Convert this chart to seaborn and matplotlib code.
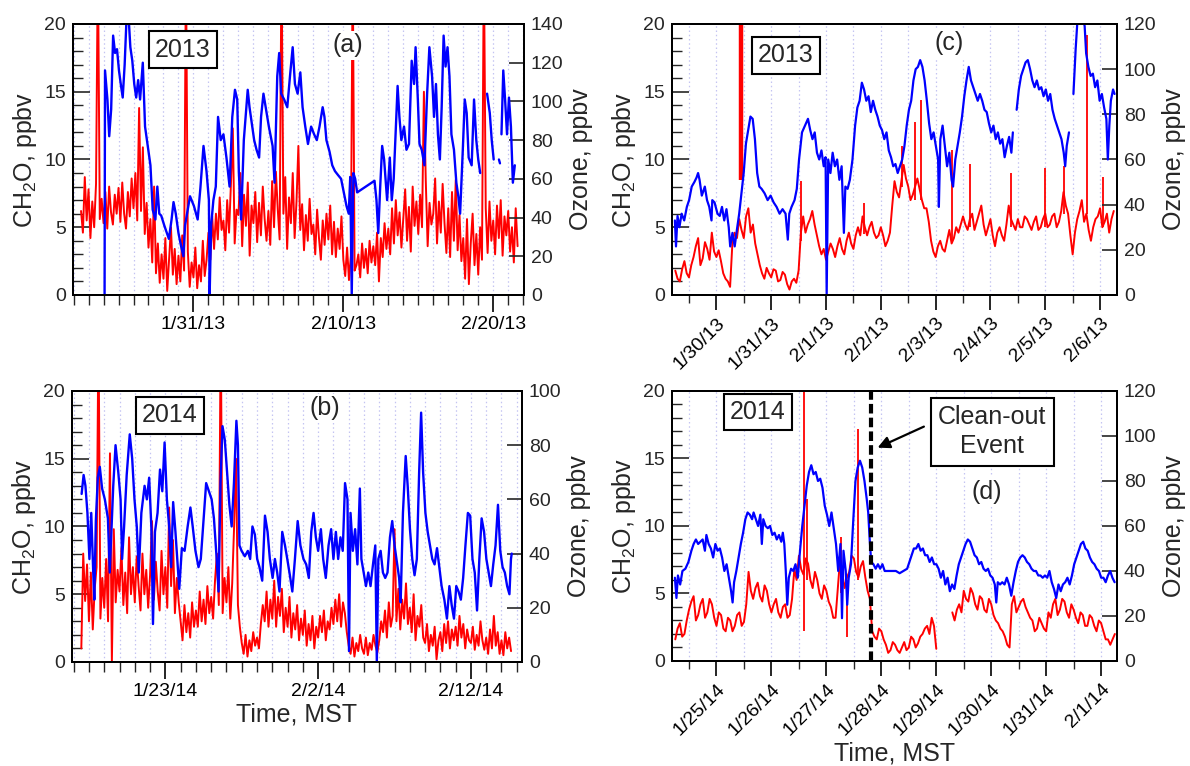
import numpy as np
import pandas as pd
import matplotlib
matplotlib.use("Agg")
import matplotlib.pyplot as plt
import matplotlib.dates as mdates
from matplotlib.ticker import MultipleLocator
import seaborn as sns

sns.set_theme(style="ticks")
plt.rcParams["font.family"] = ["Liberation Sans", "DejaVu Sans"]
plt.rcParams["mathtext.fontset"] = "custom"
plt.rcParams["mathtext.rm"] = "Liberation Sans"
plt.rcParams["mathtext.default"] = "rm"

RED = "#ff0000"
BLUE = "#0000ff"
nan = np.nan

# ---------------------------------------------------------------- 2013, full period (a)
start_a = "2013-01-23"
ch2o_a_t0, ch2o_a_per_day = 0.5, 8
ch2o_a = [
    6.2, 4.6, 8.7, 5.5,
    7.8, 4.2, 6.9, 5.0, 8.2, 25.0, 5.6, 7.1,
    5.3, 7.6, 4.9, 8.0, 6.1, 5.2, 7.4, 6.0,
    7.9, 5.4, 8.3, 6.0, 4.9, 7.6, 5.8, 8.6,
    6.4, 9.0, 5.5, 13.8, 6.2, 10.9, 4.5, 6.8,
    3.5, 5.6, 2.4, 8.0, 1.6, 3.8, 0.9, 3.0,
    1.2, 4.2, 0.3, 2.6, 5.0, 1.5, 3.4, 0.8,
    2.9, 1.0, 4.4, 1.8, 25.0, 3.2, 0.6, 2.4,
    1.3, 3.5, 0.5, 2.2, 1.0, 4.0, 1.4, 2.6,
    4.6, 2.6, 5.8, 3.4, 6.0, 4.1, 7.2, 4.8,
    5.5, 3.3, 7.0, 4.6, 8.2, 12.3, 3.8, 6.3,
    5.9, 9.0, 3.6, 7.4, 5.1, 8.3, 2.9, 6.6,
    5.3, 7.6, 3.9, 6.8, 4.4, 8.0, 5.6, 4.0,
    6.2, 3.7, 8.4, 5.0, 9.1, 6.3, 4.1, 25.0,
    6.0, 8.7, 3.4, 7.2, 5.3, 9.0, 4.2, 6.9,
    11.0, 4.8, 6.7, 3.3, 5.9, 4.0, 7.1, 4.5,
    5.2, 3.0, 6.3, 4.2, 2.6, 5.5, 3.7, 6.0,
    4.1, 6.6, 3.0, 5.4, 2.8, 4.9, 3.4, 5.8,
    2.6, 1.4, 3.5, 1.1, 2.9, 25.0, 1.8, 2.2,
    3.0, 1.3, 3.8, 2.0, 3.4, 1.6, 4.0, 2.4,
    3.6, 2.2, 4.6, 1.0, 4.2, 2.8, 5.3, 3.4,
    4.9, 3.0, 6.4, 3.8, 7.0, 4.4, 6.1, 3.5,
    5.6, 7.8, 4.0, 6.5, 3.2, 8.0, 5.1, 6.9,
    4.5, 7.4, 5.0, 15.0, 8.4, 3.6, 6.8, 5.2,
    6.0, 8.6, 3.8, 6.9, 4.6, 8.2, 5.3, 3.1,
    6.4, 2.8, 7.6, 4.0, 8.5, 3.3, 5.9, 2.5,
    4.2, 1.2, 5.6, 0.8, 3.8, 6.0, 2.2, 4.5,
    1.5, 5.0, 2.6, 25.0, 6.4, 3.1, 6.9, 4.0,
    5.5, 3.0, 6.6, 4.2, 7.0, 2.9, 5.8, 4.4,
    6.2, 3.2, 5.0, 2.4, 6.4, 3.6,
]
o3_a_t = [
    2.07, 2.10, 2.26, 2.38, 2.51, 2.64, 2.77, 2.90, 3.03, 3.15,
    3.28, 3.41, 3.54, 3.67, 3.79, 3.92, 4.05, 4.18, 4.31, 4.44,
    4.62, 4.77, 4.95, 5.13, 5.28, 5.46, 5.59, 5.72, 5.85, 6.05,
    6.23, 6.36, 6.54, 6.67, 6.82, 7.00, 7.18, 7.33, 7.44, 7.77,
    8.03, 8.28, 8.46, 8.67, 8.87, 9.03, 9.08, 9.18, 9.33, 9.49,
    9.64, 9.82, 10.00, 10.20, 10.41, 10.59, 10.77, 10.92, 11.03, 11.18,
    11.36, 11.62, 11.74, 11.87, 12.05, 12.21, 12.38, 12.51, 12.67, 12.82,
    13.03, 13.28, 13.41, 13.59, 13.72, 13.85, 14.05, 14.26, 14.44, 14.62,
    14.77, 14.95, 15.13, 15.28, 15.46, 15.64, 15.85, 16.05, 16.23, 16.41,
    16.62, 16.74, 16.87, 17.08, 17.26, 17.44, 17.64, 17.85, 18.03, 18.21,
    18.36, 18.46, 18.56, 18.67, 18.79, 18.92, 20.08, 20.21, 20.33, 20.46,
    20.59, 20.72, 20.92, 21.10, 21.23, 21.36, 21.62, 21.74, 21.87, 22.05,
    22.21, 22.38, 22.56, 22.72, 22.82, 22.97, 23.08, 23.23, 23.41, 23.59,
    23.74, 23.92, 24.05, 24.18, 24.31, 24.44, 24.56, 24.69, 24.82, 24.95,
    25.08, 25.21, 25.38, 25.54, 25.67, 25.79, 25.97, 26.10, 26.23, 26.36,
    26.56, 26.72, 26.87, 27.00, 27.13, 27.20, 27.59, 27.77, 27.90, 28.03,
    28.10, 28.38, 28.45, 28.50, 28.55, 28.67, 28.79, 28.92, 29.05, 29.18,
    29.31, 29.44,
]
o3_a = [
    0, 116, 101, 82, 96, 134, 125, 127, 116, 109,
    102, 119, 144, 144, 128, 121, 109, 102, 111, 101,
    120, 87, 77, 67, 44, 39, 56, 42, 41, 36,
    32, 29, 39, 48, 42, 32, 25, 20, 36, 51,
    46, 39, 55, 77, 64, 49, 0, 36, 49, 56,
    92, 80, 83, 71, 56, 92, 106, 101, 63, 39,
    80, 106, 97, 90, 80, 75, 71, 92, 104, 97,
    87, 77, 58, 113, 125, 104, 101, 97, 113, 128,
    109, 104, 115, 97, 87, 78, 87, 83, 80, 87,
    97, 92, 80, 74, 67, 64, 62, 60, 53, 46,
    42, 61, 0, 63, 60, 53, 59, 49, 32, 56,
    77, 70, 49, 71, 49, 60, 108, 92, 80, 87,
    75, 78, 121, 109, 128, 101, 78, 75, 67, 104,
    128, 113, 92, 109, 83, 70, 97, 134, 118, 128,
    113, 83, 75, 58, 51, 42, 75, 101, 94, 71,
    67, 101, 80, 70, 63, nan, 104, 94, 80, 70,
    nan, 70, 68, nan, 83, 116, 101, 83, 102, 87,
    58, 67,
]

# ---------------------------------------------------------------- 2014, full period (b)
start_b = "2014-01-17"
ch2o_b_t0, ch2o_b_per_day = 0.5, 8
ch2o_b = [
    1.0, 8.0, 4.5, 7.2,
    3.0, 6.6, 2.4, 5.4, 7.0, 25.0, 3.2, 6.2,
    4.0, 7.6, 3.0, 15.4, 0.0, 9.8, 4.4, 6.8,
    5.2, 8.4, 4.2, 6.6, 3.6, 9.2, 5.0, 7.0,
    4.4, 7.8, 5.6, 3.8, 8.0, 5.0, 6.8, 4.0,
    6.4, 10.4, 4.6, 7.4, 5.2, 3.8, 8.2, 5.0,
    7.0, 4.0, 11.4, 5.6, 9.0, 3.6, 6.2, 4.4,
    3.0, 1.6, 4.2, 2.2, 3.6, 1.8, 4.4, 2.6,
    3.8, 2.6, 5.2, 3.0, 4.6, 2.8, 5.6, 3.6,
    4.8, 3.2, 6.0, 8.0, 4.2, 25.0, 3.6, 6.2,
    4.4, 7.0, 3.2, 5.8, 10.0, 15.0, 4.2, 2.6,
    1.4, 0.6, 2.0, 0.4, 1.6, 0.8, 2.2, 1.2,
    1.8, 1.0, 2.8, 4.2, 3.0, 5.2, 2.6, 4.6,
    3.2, 6.0, 2.6, 4.8, 3.4, 5.4, 2.2, 4.0,
    2.6, 4.8, 1.8, 3.6, 2.4, 4.2, 1.6, 3.2,
    2.0, 3.8, 1.2, 2.8, 1.6, 3.4, 1.0, 2.6,
    1.8, 3.4, 2.2, 3.8, 1.6, 3.0, 2.4, 4.0,
    2.8, 4.6, 3.0, 5.0, 2.6, 4.4, 3.6, 2.2,
    1.2, 0.6, 1.8, 0.4, 1.4, 0.8, 2.0, 1.0,
    0.6, 1.8, 0.5, 1.4, 0.9, 2.0, 1.2, 0.7,
    1.6, 3.0, 2.2, 3.8, 1.8, 4.4, 2.6, 3.4,
    9.8, 3.0, 5.4, 2.4, 4.6, 3.2, 5.8, 2.8,
    4.0, 2.2, 5.0, 1.6, 3.4, 2.6, 4.2, 1.8,
    1.4, 2.8, 0.8, 2.0, 1.2, 2.6, 0.2, 1.6,
    2.2, 0.8, 2.8, 1.4, 3.0, 1.0, 2.4, 1.6,
    2.6, 1.2, 3.4, 1.8, 2.8, 1.0, 2.4, 1.6,
    1.4, 2.6, 0.9, 2.0, 1.2, 3.0, 1.6, 0.9,
    1.8, 0.6, 2.4, 1.0, 3.4, 1.2, 2.2, 0.6,
    1.6, 0.5, 2.2, 1.0, 1.8, 0.8,
]
o3_b_t = [
    0.52, 0.65, 0.77, 0.90, 1.03, 1.15, 1.28, 1.35, 1.45, 1.58,
    1.71, 1.86, 2.04, 2.24, 2.36, 2.47, 2.59, 2.74, 2.92, 3.07,
    3.17, 3.30, 3.47, 3.67, 3.83, 3.98, 4.13, 4.26, 4.43, 4.64,
    4.79, 4.94, 5.09, 5.19, 5.32, 5.49, 5.65, 5.80, 5.95, 6.10,
    6.25, 6.38, 6.51, 6.66, 6.78, 6.91, 7.08, 7.26, 7.46, 7.64,
    7.79, 7.97, 8.17, 8.32, 8.47, 8.67, 8.85, 9.03, 9.18, 9.36,
    9.48, 9.61, 9.74, 9.89, 10.04, 10.19, 10.34, 10.49, 10.65, 10.75,
    10.85, 10.99, 11.20, 11.40, 11.55, 11.70, 11.86, 12.01, 12.16, 12.34,
    12.52, 12.69, 12.84, 13.02, 13.17, 13.32, 13.47, 13.65, 13.83, 13.98,
    14.15, 14.31, 14.48, 14.66, 14.84, 15.04, 15.22, 15.39, 15.55, 15.70,
    15.85, 16.00, 16.18, 16.33, 16.50, 16.68, 16.85, 17.00, 17.16, 17.31,
    17.46, 17.61, 17.76, 17.92, 18.02, 18.12, 18.27, 18.42, 18.57, 18.73,
    18.83, 18.98, 19.13, 19.28, 19.43, 19.59, 19.74, 19.84, 19.94, 20.09,
    20.24, 20.39, 20.54, 20.70, 20.85, 21.00, 21.15, 21.30, 21.40, 21.55,
    21.73, 21.86, 22.01, 22.16, 22.31, 22.46, 22.61, 22.74, 22.87, 23.02,
    23.17, 23.32, 23.47, 23.62, 23.78, 23.93, 24.08, 24.26, 24.43, 24.59,
    24.74, 24.89, 25.04, 25.19, 25.34, 25.49, 25.64, 25.80, 25.95, 26.10,
    26.25, 26.40, 26.55, 26.70, 26.86, 27.01, 27.16, 27.31, 27.46, 27.61,
    27.77, 27.92, 28.07, 28.22, 28.37, 28.52, 28.62, 28.67,
]
o3_b = [
    62, 69, 65, 55, 38, 55, 33, 23, 52, 68,
    72, 64, 60, 53, 33, 48, 65, 80, 70, 60,
    38, 50, 69, 84, 75, 60, 50, 33, 55, 65,
    60, 68, 49, 14, 48, 55, 71, 63, 81, 60,
    50, 35, 59, 48, 38, 27, 42, 41, 50, 57,
    50, 41, 35, 38, 50, 66, 63, 60, 53, 38,
    26, 66, 87, 82, 70, 58, 50, 66, 89, 80,
    43, 41, 39, 41, 38, 50, 47, 38, 35, 30,
    54, 48, 38, 31, 38, 33, 26, 48, 43, 38,
    32, 26, 38, 52, 43, 38, 36, 31, 48, 55,
    46, 41, 49, 38, 31, 43, 49, 38, 48, 38,
    46, 41, 66, 60, 4, 55, 41, 49, 36, 64,
    38, 33, 28, 33, 28, 36, 43, 0, 38, 41,
    33, 31, 33, 46, 52, 43, 37, 31, 22, 55,
    76, 65, 49, 38, 32, 38, 70, 92, 70, 55,
    48, 43, 38, 36, 42, 35, 28, 23, 16, 28,
    21, 16, 28, 26, 23, 31, 43, 55, 54, 38,
    33, 19, 38, 53, 48, 38, 33, 28, 36, 43,
    58, 41, 35, 33, 28, 25, 38, 40,
]

# ---------------------------------------------------------------- 2013, detail (c)
start_c = "2013-01-29"
ch2o_c_t0, ch2o_c_per_day = 0.25, 24
ch2o_c = [
    1.8, 1.2, 1.0, 1.9, 2.5, 1.6, 1.3, 2.2, 2.8, 3.6, 4.2, 2.2, 2.7, 3.9, 3.4, 2.6, 4.6, 3.2,
    2.8, 3.3, 2.5, 1.6, 1.2, 1.0, 0.6, 3.8, 4.6, 4.2, 5.6, 4.8, 4.2, 5.8, 6.4, 4.6, 5.2, 3.8, 3.0, 2.2, 1.6, 1.2, 2.0, 1.6,
    1.3, 1.9, 1.8, 1.0, 1.1, 1.7, 1.5, 0.8, 0.4, 1.0, 1.2, 0.9, 1.8, 4.6, 5.8, 4.6, 5.2, 5.6, 6.2, 5.2, 4.4, 3.6, 3.0, 3.4,
    2.6, 3.2, 3.8, 3.4, 2.8, 3.6, 4.2, 3.4, 3.0, 4.0, 4.6, 3.8, 3.4, 4.4, 5.0, 4.4, 5.8, 5.0, 4.4, 5.0, 5.4, 4.6, 4.2, 4.4,
    5.0, 4.4, 3.6, 4.0, 4.6, 6.6, 8.4, 7.6, 7.2, 8.4, 9.6, 8.6, 8.0, 7.0, 7.4, 8.0, 8.6, 7.8, 7.0, 6.4, 6.4, 5.4, 4.0, 3.2,
    2.8, 3.6, 4.0, 3.4, 3.2, 4.0, 4.8, 3.8, 4.2, 5.0, 4.6, 5.2, 5.8, 5.2, 4.8, 5.6, 6.0, 4.8, 5.4, 6.0, 6.6, 5.2, 4.4, 5.0,
    5.6, 4.4, 3.6, 4.6, 5.0, 4.4, 4.0, 5.2, 6.6, 5.6, 5.2, 4.8, 5.6, 5.0, 5.0, 5.8, 5.6, 5.2, 4.8, 5.4, 5.8, 4.8, 5.0, 5.6,
    6.0, 5.0, 5.2, 5.8, 6.0, 5.0, 5.4, 6.2, 7.6, 6.6, 6.0, 4.4, 3.0, 4.6, 5.6, 6.2, 7.0, 5.4, 6.0, 4.8, 4.0, 5.0, 5.6, 5.8,
    6.4, 5.0, 5.4, 6.0, 4.6, 5.6, 6.2,
]
spike_c_t = [1.445, 2.54, 3.69, 4.39, 4.62, 4.73, 5.30, 5.63, 6.38, 6.99, 7.34, 7.76, 8.05]
spike_c_lo = [8.5, 4.0, 4.5, 8.0, 7.0, 7.0, 4.0, 5.0, 5.0, 5.0, 6.0, 6.0, 5.0]
spike_c_hi = [20.5, 8.4, 6.8, 11.0, 12.8, 14.4, 10.7, 9.7, 9.0, 9.4, 9.5, 19.2, 8.7]
spike_c_lw = [3.2, 1.3, 1.3, 1.3, 1.3, 1.3, 1.3, 1.3, 1.3, 1.3, 1.3, 1.3, 1.3]
o3_c_t = [
    0.243, 0.263, 0.291, 0.325, 0.366, 0.413, 0.461, 0.502, 0.550, 0.598,
    0.638, 0.666, 0.693, 0.734, 0.789, 0.829, 0.870, 0.911, 0.925, 0.966,
    1.020, 1.061, 1.102, 1.143, 1.184, 1.225, 1.252, 1.293, 1.334, 1.375,
    1.416, 1.457, 1.498, 1.539, 1.580, 1.621, 1.662, 1.703, 1.744, 1.784,
    1.825, 1.880, 1.935, 1.989, 2.044, 2.098, 2.153, 2.207, 2.262, 2.303,
    2.330, 2.371, 2.426, 2.467, 2.508, 2.562, 2.617, 2.671, 2.712, 2.753,
    2.794, 2.835, 2.876, 2.917, 2.958, 2.992, 3.012, 3.040, 3.081, 3.121,
    3.162, 3.203, 3.244, 3.285, 3.326, 3.353, 3.394, 3.435, 3.483, 3.531,
    3.572, 3.613, 3.654, 3.694, 3.735, 3.776, 3.817, 3.858, 3.899, 3.940,
    3.981, 4.022, 4.063, 4.104, 4.145, 4.186, 4.226, 4.267, 4.308, 4.349,
    4.390, 4.431, 4.472, 4.513, 4.554, 4.595, 4.636, 4.677, 4.718, 4.759,
    4.799, 4.840, 4.881, 4.922, 4.963, 5.004, 5.045, 5.059, 5.086, 5.127,
    5.168, 5.209, 5.250, 5.291, 5.318, 5.359, 5.400, 5.441, 5.482, 5.523,
    5.563, 5.604, 5.645, 5.686, 5.727, 5.768, 5.809, 5.850, 5.891, 5.932,
    5.973, 6.014, 6.055, 6.096, 6.136, 6.177, 6.218, 6.259, 6.300, 6.341,
    6.382, 6.409, 6.440, 6.478, 6.518, 6.559, 6.600, 6.641, 6.682, 6.723,
    6.764, 6.805, 6.846, 6.887, 6.928, 6.969, 7.010, 7.051, 7.091, 7.132,
    7.173, 7.214, 7.255, 7.296, 7.337, 7.364, 7.392, 7.433, 7.470, 7.514,
    7.555, 7.596, 7.678, 7.719, 7.746, 7.787, 7.828, 7.869, 7.910, 7.951,
    7.992, 8.033, 8.074, 8.115, 8.142, 8.169, 8.197, 8.237, 8.265,
]
o3_c = [
    33, 21.5, 35, 30, 36, 33, 39, 42, 48, 50,
    52, 54, 51, 44, 48, 42, 39, 33, 42, 41,
    36, 35, 39, 33, 38, 30, 21.5, 27.5, 21.5, 29,
    36, 45, 54, 67, 73, 79, 78, 69, 54, 48,
    47, 45, 42, 44, 41, 39, 36, 38, 36, 24.5,
    36, 39, 42, 47, 60, 72, 75, 78, 73, 69,
    72, 63, 60, 64, 57, 61, 0, 60, 54, 63,
    57, 60, 51, 57, 27.5, 48, 47, 51, 60, 75,
    83, 86, 94, 91, 86, 88, 81, 86, 82, 79,
    75, 73, 69, 72, 64, 61, 57, 58, 54, 57,
    60, 66, 75, 82, 86, 95, 100, 101, 104, 101,
    95, 86, 76, 69, 72, 66, 60, 39, 69, 75,
    66, 57, 63, 51, 48, 60, 66, 72, 79, 88,
    95, 101, 95, 92, 89, 86, 89, 86, 82, 81,
    76, 72, 75, 69, 72, 67, 69, 61, 66, 70,
    63, 72, nan, 82, 91, 97, 100, 103, 104, 100,
    95, 92, 95, 91, 92, 88, 91, 86, 89, 82,
    78, 75, 72, 69, 63, 57, 66, 72, nan, 89,
    109, 125, 125, 119, 107, 101, 97, 98, 92, 95,
    86, 89, 83, 78, 60, 75, 86, 91, 89,
]

# ---------------------------------------------------------------- 2014, detail (d)
start_d = "2014-01-24"
clean_out_t = 3.82
ch2o_d_t0, ch2o_d_per_day = 0.25, 24
ch2o_d = [
    1.6, 2.4, 2.8, 1.8, 2.0, 3.0, 3.8, 4.4, 4.8, 3.0, 3.4, 4.2, 4.6, 3.2, 3.6, 4.6, 4.2, 3.2,
    2.6, 3.6, 3.4, 2.4, 2.2, 3.2, 3.0, 2.2, 2.6, 3.4, 3.6, 2.6, 2.9, 4.2, 6.6, 5.2, 4.6, 5.4, 5.8, 4.8, 4.4, 5.6, 5.2, 4.2,
    3.6, 4.2, 4.6, 3.6, 3.2, 4.0, 4.2, 3.2, 3.4, 4.6, 6.8, 6.0, 7.8, 6.8, 6.4, 7.6, 7.2, 6.0, 5.4, 6.6, 6.0, 5.0, 4.6, 5.6,
    5.2, 4.4, 4.0, 3.2, 3.2, 5.4, 7.6, 6.4, 5.4, 6.2, 6.6, 7.8, 7.6, 6.6, 6.2, 7.0, 7.4, 6.2, 5.2, 4.6, 2.2, 1.8, 1.6, 2.4,
    2.2, 1.6, 1.2, 0.6, 0.8, 1.4, 1.2, 0.8, 0.6, 1.0, 1.4, 0.8, 1.0, 1.8, 1.6, 1.0, 1.3, 1.8, 2.0, 2.4, 2.6, 2.0, 3.2, 2.6,
    0.9, nan, nan, nan, nan, nan, nan, 3.6, 3.0, 3.8, 4.2, 3.6, 5.2, 4.6, 4.4, 5.4, 5.0, 4.2, 3.8, 4.8, 4.6, 3.8, 3.6, 4.6,
    4.2, 3.4, 3.0, 2.8, 2.4, 2.2, 1.8, 1.2, 1.0, 4.2, 4.8, 3.6, 4.0, 4.4, 4.6, 4.0, 3.6, 3.2, 3.0, 2.2, 2.4, 3.2, 2.8, 2.4,
    2.2, 3.6, 3.2, 4.2, 4.6, 3.4, 3.8, 4.6, 4.4, 3.6, 3.2, 4.2, 3.8, 3.2, 2.8, 3.6, 3.4, 2.6, 2.6, 3.4, 3.2, 2.6, 2.2, 3.0,
    2.8, 2.2, 1.6, 1.6, 1.2, 1.6, 2.0,
]
spike_d_t = [2.60, 2.64, 3.27, 3.37, 3.57]
spike_d_lo = [2.2, 6.0, 5.0, 1.8, 6.0]
spike_d_hi = [20.5, 12.0, 9.2, 6.0, 17.2]
spike_d_lw = [1.3, 1.3, 1.3, 1.3, 1.3]
o3_d_t = [
    0.243, 0.271, 0.298, 0.339, 0.380, 0.434, 0.489, 0.543, 0.584, 0.625,
    0.666, 0.707, 0.748, 0.789, 0.816, 0.857, 0.898, 0.939, 0.980, 1.020,
    1.061, 1.102, 1.143, 1.184, 1.225, 1.266, 1.293, 1.320, 1.361, 1.402,
    1.443, 1.484, 1.525, 1.566, 1.607, 1.648, 1.675, 1.716, 1.757, 1.798,
    1.825, 1.852, 1.893, 1.934, 1.975, 2.016, 2.057, 2.097, 2.138, 2.179,
    2.207, 2.234, 2.261, 2.288, 2.316, 2.357, 2.397, 2.438, 2.479, 2.520,
    2.561, 2.602, 2.643, 2.684, 2.725, 2.766, 2.806, 2.847, 2.888, 2.929,
    2.970, 3.011, 3.052, 3.093, 3.134, 3.175, 3.215, 3.256, 3.284, 3.311,
    3.352, 3.379, 3.406, 3.447, 3.488, 3.529, 3.570, 3.611, 3.652, 3.693,
    3.734, 3.761, 3.788, 3.815, 3.856, 3.897, 3.938, 3.979, 4.020, 4.061,
    4.129, 4.197, 4.265, 4.333, 4.402, 4.470, 4.511, 4.552, 4.592, 4.633,
    4.674, 4.715, 4.756, 4.797, 4.838, 4.879, 4.920, 4.961, 5.001, 5.042,
    5.083, 5.124, 5.165, 5.206, 5.247, 5.288, 5.329, 5.370, 5.410, 5.451,
    5.492, 5.533, 5.574, 5.615, 5.656, 5.697, 5.738, 5.778, 5.819, 5.860,
    5.901, 5.942, 5.983, 6.024, 6.065, 6.092, 6.119, 6.160, 6.201, 6.242,
    6.283, 6.324, 6.365, 6.406, 6.447, 6.487, 6.528, 6.569, 6.610, 6.651,
    6.692, 6.733, 6.774, 6.815, 6.856, 6.896, 6.937, 6.978, 7.019, 7.060,
    7.101, 7.142, 7.183, 7.224, 7.265, 7.305, 7.346, 7.387, 7.428, 7.469,
    7.510, 7.551, 7.592, 7.633, 7.674, 7.714, 7.755, 7.796, 7.837, 7.878,
    7.919, 7.960, 8.001, 8.042, 8.083, 8.124, 8.165, 8.206, 8.246,
]
o3_d = [
    37, 28, 38, 34, 40, 41, 44, 49, 52, 54,
    52, 53, 54, 49, 56, 52, 50, 46, 52, 49,
    50, 46, 40, 43, 37, 31, 26, 35, 40, 46,
    52, 57, 63, 66, 65, 63, 66, 63, 60, 65,
    52, 63, 60, 59, 60, 56, 57, 54, 56, 53,
    57, 52, 40, 25, 37, 41, 40, 43, 37, 49,
    60, 69, 78, 84, 87, 83, 84, 80, 81, 77,
    69, 65, 60, 66, 59, 52, 40, 52, 19, 49,
    40, 25, 37, 43, 62, 80, 86, 89, 86, 80,
    72, 66, 54, 44, 43, 41, 43, 41, 43, 40,
    40, 40, 40, 39, 40, 41, 44, 47, 50, 50,
    52, 49, 50, 47, 47, 44, 46, 43, 43, 41,
    37, 40, 34, 37, 31, 34, 32, 38, 43, 46,
    49, 52, 54, 53, 50, 47, 46, 43, 44, 41,
    40, 41, 38, 37, 34, 26, 35, 34, 35, 34,
    37, 34, 29, 35, 40, 44, 46, 47, 46, 44,
    43, 41, 40, 40, 38, 38, 37, 38, 37, 40,
    35, 32, 28, 34, 31, 34, 35, 37, 34, 38,
    43, 46, 49, 52, 53, 50, 49, 46, 44, 43,
    41, 40, 37, 37, 35, 38, 40, 37, 35,
]


def to_dates(start, t):
    """Convert day offsets from a start date into matplotlib date numbers."""
    stamps = pd.Timestamp(start) + pd.to_timedelta(np.asarray(t, float), unit="D")
    return mdates.date2num(stamps.to_pydatetime())


def series_frame(start, t, v):
    """Long-form frame; NaN entries split the trace into separate segments."""
    t = np.asarray(t, float)
    v = np.asarray(v, float)
    assert len(t) == len(v)
    seg = np.cumsum(np.isnan(v))
    keep = ~np.isnan(v)
    stamps = pd.Timestamp(start) + pd.to_timedelta(t[keep], unit="D")
    return pd.DataFrame({"time": stamps, "value": v[keep], "seg": seg[keep]})


def regular(t0, per_day, vals):
    return t0 + np.arange(len(vals)) / per_day


fig = plt.figure(figsize=(11.9, 7.66), dpi=100)

panels = [
    dict(pos=[0.0613, 0.6149, 0.379, 0.3538], start=start_a, xlim=(-0.04, 30.05),
         red=(regular(ch2o_a_t0, ch2o_a_per_day, ch2o_a), ch2o_a), blue=(o3_a_t, o3_a),
         o3max=140, detail=False, major_days=[10, 20, 31], year="2013",
         year_xy=(0.244, 0.905), tag="(a)", tag_xy=(0.61, 0.922), xlabel=None,
         red_lw=1.4, blue_lw=1.7),
    dict(pos=[0.5647, 0.6149, 0.374, 0.3538], start=start_c, xlim=(0.19, 8.31),
         red=(regular(ch2o_c_t0, ch2o_c_per_day, ch2o_c), ch2o_c), blue=(o3_c_t, o3_c),
         spikes=(spike_c_t, spike_c_lo, spike_c_hi, spike_c_lw),
         o3max=120, detail=True, year="2013",
         year_xy=(0.256, 0.884), tag="(c)", tag_xy=(0.623, 0.929), xlabel=None,
         red_lw=1.4, blue_lw=1.6),
    dict(pos=[0.0605, 0.1358, 0.378, 0.3538], start=start_b, xlim=(-0.11, 29.33),
         red=(regular(ch2o_b_t0, ch2o_b_per_day, ch2o_b), ch2o_b), blue=(o3_b_t, o3_b),
         o3max=100, detail=False, major_days=[2, 12, 23], year="2014",
         year_xy=(0.218, 0.91), tag="(b)", tag_xy=(0.562, 0.936), xlabel="Time, MST",
         red_lw=1.4, blue_lw=1.7),
    dict(pos=[0.5647, 0.1371, 0.374, 0.3525], start=start_d, xlim=(0.19, 8.29),
         red=(regular(ch2o_d_t0, ch2o_d_per_day, ch2o_d), ch2o_d), blue=(o3_d_t, o3_d),
         spikes=(spike_d_t, spike_d_lo, spike_d_hi, spike_d_lw),
         o3max=120, detail=True, year="2014",
         year_xy=(0.193, 0.923), tag="(d)", tag_xy=(0.707, 0.627), xlabel="Time, MST",
         red_lw=1.4, blue_lw=1.6),
]

for p in panels:
    ax = fig.add_axes(p["pos"])
    ax2 = ax.twinx()

    red_df = series_frame(p["start"], *p["red"])
    blue_df = series_frame(p["start"], *p["blue"])
    sns.lineplot(data=red_df, x="time", y="value", units="seg", estimator=None,
                 sort=False, color=RED, lw=p["red_lw"], ax=ax, legend=False)
    if "spikes" in p:
        st, lo, hi, lw = p["spikes"]
        ax.vlines(to_dates(p["start"], st), lo, hi, colors=RED, linewidths=lw)
    sns.lineplot(data=blue_df, x="time", y="value", units="seg", estimator=None,
                 sort=False, color=BLUE, lw=p["blue_lw"], ax=ax2, legend=False)

    x0, x1 = to_dates(p["start"], p["xlim"])
    ax.set_xlim(x0, x1)
    ax.set_ylim(0, 20)
    ax2.set_ylim(0, p["o3max"])

    # x ticks and dotted vertical guides
    if p["detail"]:
        ax.xaxis.set_major_locator(mdates.DayLocator())
        ax.xaxis.set_minor_locator(mdates.HourLocator(byhour=[12]))
        maj_len, min_len = 11, 6
    else:
        ax.xaxis.set_major_locator(mdates.DayLocator(bymonthday=p["major_days"]))
        ax.xaxis.set_minor_locator(mdates.DayLocator())
        maj_len, min_len = 12, 7
    ax.xaxis.set_major_formatter(mdates.DateFormatter("%-m/%-d/%y"))
    ax.grid(True, axis="x", which="both", color="#c4c4f2", linestyle=(0, (1.2, 2.2)),
            linewidth=0.9)
    ax.grid(False, axis="y")
    ax.set_axisbelow(True)

    ax.yaxis.set_major_locator(MultipleLocator(5))
    ax.yaxis.set_minor_locator(MultipleLocator(1))
    ax2.yaxis.set_major_locator(MultipleLocator(20))

    ax.tick_params(axis="x", which="major", direction="out", length=maj_len, width=1.2,
                   labelsize=14, bottom=True, top=False, colors="black", pad=3)
    ax.tick_params(axis="x", which="minor", direction="out", length=min_len, width=1.0,
                   bottom=True, top=False)
    ax.tick_params(axis="y", which="major", direction="in", length=12, width=1.2,
                   labelsize=14, left=True, right=False, pad=5)
    ax.tick_params(axis="y", which="minor", direction="in", length=7, width=1.0,
                   left=True, right=False)
    ax2.tick_params(axis="y", which="major", direction="in", length=11, width=1.2,
                    labelsize=14, right=True, left=False, pad=5)

    for a in (ax, ax2):
        for s in a.spines.values():
            s.set_color("black")
            s.set_linewidth(1.4)
            s.set_visible(True)

    ax.set_ylabel("CH$_2$O, ppbv", fontsize=18, labelpad=4)
    ax2.set_ylabel("Ozone, ppbv", fontsize=18, labelpad=4)
    ax2.set_xlabel("")
    if p["xlabel"]:
        ax.set_xlabel(p["xlabel"], fontsize=18, labelpad=2)
    else:
        ax.set_xlabel("")

    if p["detail"]:
        ax.tick_params(axis="x", which="major", labelrotation=45)
        for lbl in ax.get_xticklabels():
            lbl.set_ha("right")
            lbl.set_rotation_mode("anchor")

    ax2.text(*p["year_xy"], p["year"], transform=ax2.transAxes, ha="center", va="center",
             fontsize=18, zorder=10,
             bbox=dict(boxstyle="square,pad=0.25", fc="white", ec="black", lw=1.5))
    ax2.text(*p["tag_xy"], p["tag"], transform=ax2.transAxes, ha="center", va="center",
             fontsize=18, zorder=10,
             bbox=dict(boxstyle="square,pad=0.1", fc="white", ec="none"))

    if p["tag"] == "(d)":
        xc = to_dates(p["start"], [clean_out_t])[0]
        ax2.axvline(xc, color="black", lw=3.0, ls=(0, (2.3, 1.0)), zorder=6)
        ax2.text(0.72, 0.849, "Clean-out\nEvent", transform=ax2.transAxes,
                 ha="center", va="center", fontsize=18, linespacing=1.25, zorder=10,
                 bbox=dict(boxstyle="square,pad=0.3", fc="white", ec="black", lw=1.5))
        ax2.annotate("", xy=(0.462, 0.79), xytext=(0.566, 0.868),
                     xycoords="axes fraction", textcoords="axes fraction",
                     arrowprops=dict(arrowstyle="-|>", color="black", lw=1.6,
                                     mutation_scale=18, shrinkA=0, shrinkB=0),
                     zorder=10)

fig.savefig("out.png", dpi=100)
